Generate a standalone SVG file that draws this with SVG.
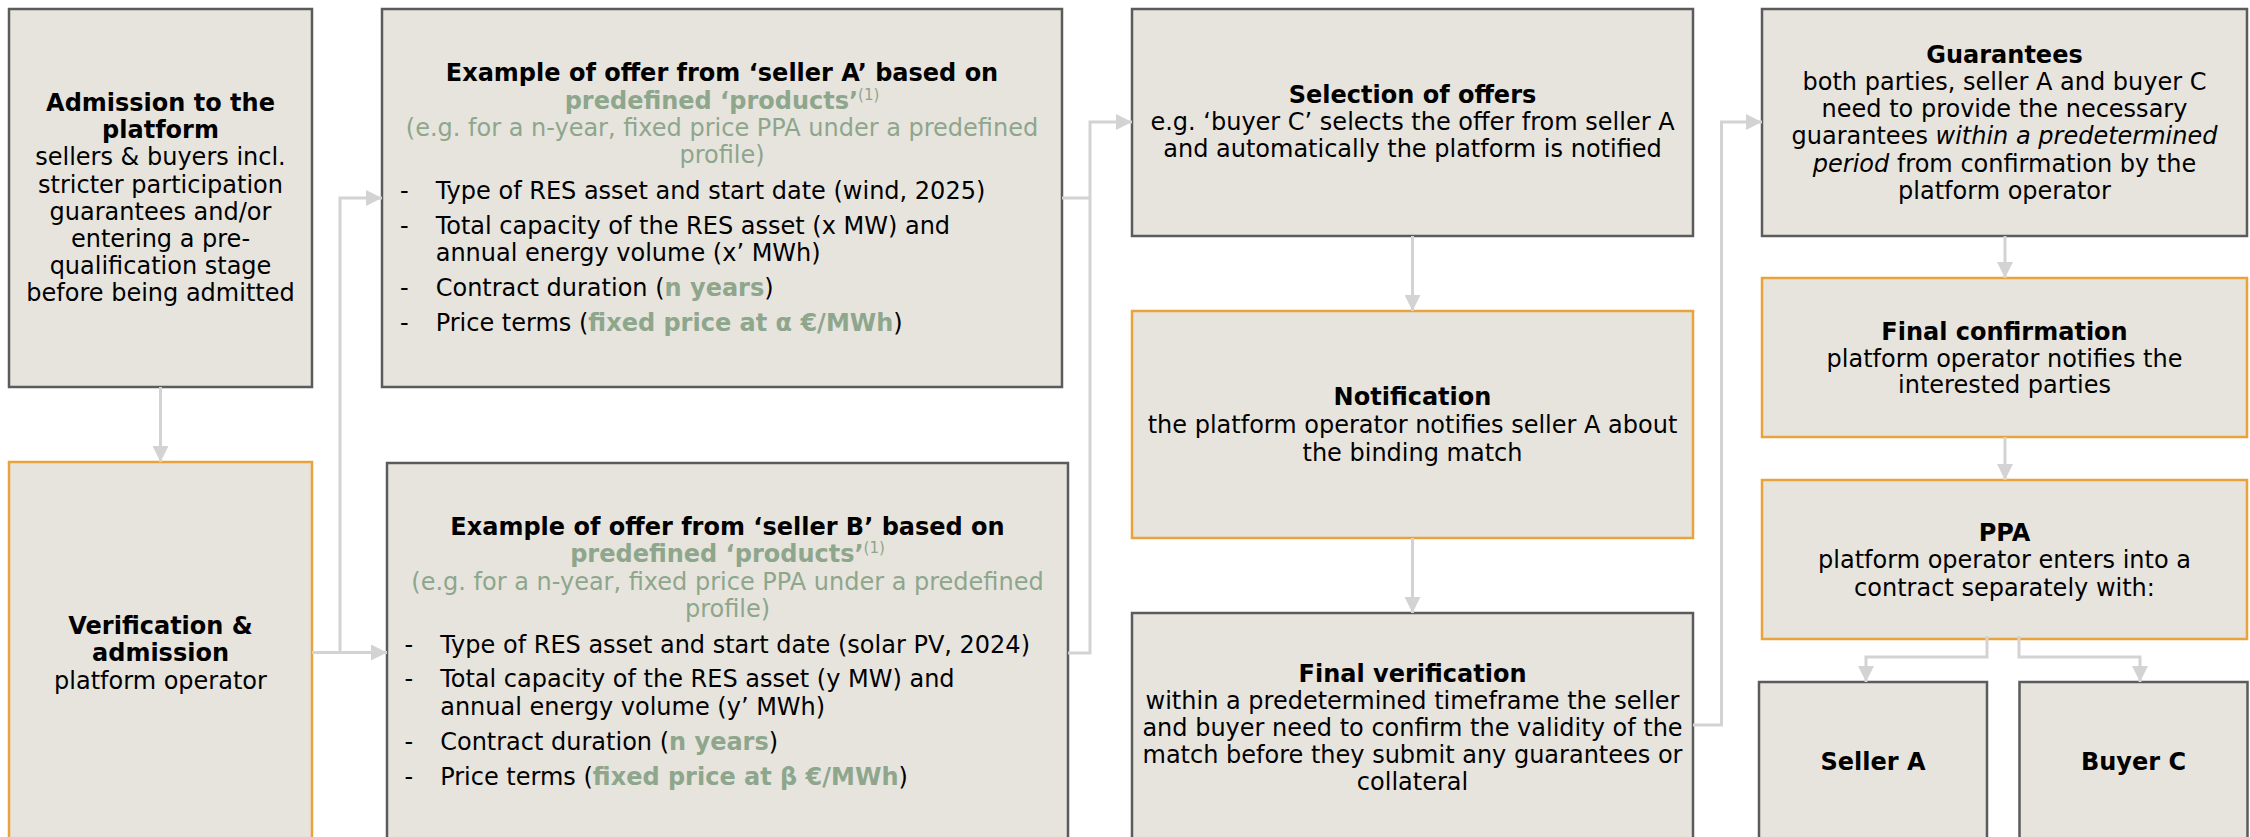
<svg xmlns="http://www.w3.org/2000/svg" width="2250" height="837" viewBox="0 0 2250 837">
<style>
.box{fill:#E7E4DE;stroke:#5B5B5B;stroke-width:2.5}
.obox{fill:#E7E4DE;stroke:#E9A33D;stroke-width:2.5}
text{font-family:"DejaVu Sans",Verdana,sans-serif;font-size:24px;fill:#000}
.c{text-anchor:middle}
.b{font-weight:bold}
.g{fill:#8DA68C}
.i{font-style:italic}
.sup{font-size:15px}
.conn{fill:none;stroke:#D3D3D3;stroke-width:3}
</style>
<defs>
<marker id="ah" markerUnits="userSpaceOnUse" markerWidth="16" markerHeight="16" refX="16" refY="8" orient="auto">
<path d="M0,0 L16,8 L0,16 z" fill="#D3D3D3"/>
</marker>
</defs>
<rect width="2250" height="837" fill="#FFFFFF"/>

<g id="admission">
<rect class="box" x="9" y="9" width="303" height="378"/>
<text class="c b" x="160.5" y="111">Admission to the</text>
<text class="c b" x="160.5" y="138.2">platform</text>
<text class="c" x="160.5" y="165.4">sellers &amp; buyers incl.</text>
<text class="c" x="160.5" y="192.6">stricter participation</text>
<text class="c" x="160.5" y="219.8">guarantees and/or</text>
<text class="c" x="160.5" y="247">entering a pre-</text>
<text class="c" x="160.5" y="274.2">qualification stage</text>
<text class="c" x="160.5" y="301.4">before being admitted</text>
</g>

<g id="verification">
<rect class="obox" x="9" y="462" width="303" height="378"/>
<text class="c b" x="160.5" y="633.5">Verification &amp;</text>
<text class="c b" x="160.5" y="661">admission</text>
<text class="c" x="160.5" y="688.5">platform operator</text>
</g>

<g id="offerA">
<rect class="box" x="382" y="9" width="680" height="378"/>
<text class="c b" x="722" y="81">Example of offer from ‘seller A’ based on</text>
<text class="c" x="722" y="108.5"><tspan class="b g">predefined ‘products’</tspan><tspan class="g sup" dy="-9">(1)</tspan></text>
<text class="c g" x="722" y="136">(e.g. for a n-year, fixed price PPA under a predefined</text>
<text class="c g" x="722" y="163.3">profile)</text>
<text x="400" y="199">-</text><text x="435.7" y="199">Type of RES asset and start date (wind, 2025)</text>
<text x="400" y="233.5">-</text><text x="435.7" y="233.5">Total capacity of the RES asset (x MW) and</text>
<text x="435.7" y="261">annual energy volume (x’ MWh)</text>
<text x="400" y="296">-</text><text x="435.7" y="296">Contract duration (<tspan class="b g">n years</tspan>)</text>
<text x="400" y="331">-</text><text x="435.7" y="331">Price terms (<tspan class="b g">fixed price at α €/MWh</tspan>)</text>
</g>

<g id="offerB">
<rect class="box" x="387" y="463" width="681" height="378"/>
<text class="c b" x="727.5" y="534.5">Example of offer from ‘seller B’ based on</text>
<text class="c" x="727.5" y="562"><tspan class="b g">predefined ‘products’</tspan><tspan class="g sup" dy="-9">(1)</tspan></text>
<text class="c g" x="727.5" y="589.5">(e.g. for a n-year, fixed price PPA under a predefined</text>
<text class="c g" x="727.5" y="616.8">profile)</text>
<text x="404.4" y="652.5">-</text><text x="440.2" y="652.5">Type of RES asset and start date (solar PV, 2024)</text>
<text x="404.4" y="687">-</text><text x="440.2" y="687">Total capacity of the RES asset (y MW) and</text>
<text x="440.2" y="714.5">annual energy volume (y’ MWh)</text>
<text x="404.4" y="749.5">-</text><text x="440.2" y="749.5">Contract duration (<tspan class="b g">n years</tspan>)</text>
<text x="404.4" y="784.5">-</text><text x="440.2" y="784.5">Price terms (<tspan class="b g">fixed price at β €/MWh</tspan>)</text>
</g>

<g id="selection">
<rect class="box" x="1132" y="9" width="561" height="227"/>
<text class="c b" x="1412.5" y="103">Selection of offers</text>
<text class="c" x="1412.5" y="130">e.g. ‘buyer C’ selects the offer from seller A</text>
<text class="c" x="1412.5" y="157.3">and automatically the platform is notified</text>
</g>

<g id="notification">
<rect class="obox" x="1132" y="311" width="561" height="227"/>
<text class="c b" x="1412.5" y="405">Notification</text>
<text class="c" x="1412.5" y="433">the platform operator notifies seller A about</text>
<text class="c" x="1412.5" y="460.7">the binding match</text>
</g>

<g id="finalVerification">
<rect class="box" x="1132" y="613" width="561" height="240"/>
<text class="c b" x="1412.5" y="681.7">Final verification</text>
<text class="c" x="1412.5" y="708.5">within a predetermined timeframe the seller</text>
<text class="c" x="1412.5" y="736">and buyer need to confirm the validity of the</text>
<text class="c" x="1412.5" y="763.3">match before they submit any guarantees or</text>
<text class="c" x="1412.5" y="790">collateral</text>
</g>

<g id="guarantees">
<rect class="box" x="1762" y="9" width="485" height="227"/>
<text class="c b" x="2004.5" y="63">Guarantees</text>
<text class="c" x="2004.5" y="90">both parties, seller A and buyer C</text>
<text class="c" x="2004.5" y="117">need to provide the necessary</text>
<text class="c" x="2004.5" y="144">guarantees <tspan class="i">within a predetermined</tspan></text>
<text class="c" x="2004.5" y="171.5"><tspan class="i">period</tspan> from confirmation by the</text>
<text class="c" x="2004.5" y="198.5">platform operator</text>
</g>

<g id="finalConfirmation">
<rect class="obox" x="1762" y="278" width="485" height="159"/>
<text class="c b" x="2004.5" y="340">Final confirmation</text>
<text class="c" x="2004.5" y="366.7">platform operator notifies the</text>
<text class="c" x="2004.5" y="393.3">interested parties</text>
</g>

<g id="ppa">
<rect class="obox" x="1762" y="480" width="485" height="159"/>
<text class="c b" x="2004.5" y="540.7">PPA</text>
<text class="c" x="2004.5" y="568.3">platform operator enters into a</text>
<text class="c" x="2004.5" y="596">contract separately with:</text>
</g>

<g id="sellerA">
<rect class="box" x="1759" y="682" width="228" height="180"/>
<text class="c b" x="1873" y="770">Seller A</text>
</g>

<g id="buyerC">
<rect class="box" x="2019.5" y="682" width="228" height="180"/>
<text class="c b" x="2133.5" y="770">Buyer C</text>
</g>

<g id="connectors">
<path class="conn" d="M160.5,387 V462" marker-end="url(#ah)"/>
<path class="conn" d="M312,652.5 H387" marker-end="url(#ah)"/>
<path class="conn" d="M340,652.5 V198 H382" marker-end="url(#ah)"/>
<path class="conn" d="M1062,198 H1090"/>
<path class="conn" d="M1068,653 H1090 V122 H1132" marker-end="url(#ah)"/>
<path class="conn" d="M1412.5,236 V311" marker-end="url(#ah)"/>
<path class="conn" d="M1412.5,538 V613" marker-end="url(#ah)"/>
<path class="conn" d="M1693,725 H1721.5 V122 H1762" marker-end="url(#ah)"/>
<path class="conn" d="M2005,236 V278" marker-end="url(#ah)"/>
<path class="conn" d="M2005,437 V480" marker-end="url(#ah)"/>
<path class="conn" d="M1987,636 V657 H1866 V682" marker-end="url(#ah)"/>
<path class="conn" d="M2019,636 V657 H2140 V682" marker-end="url(#ah)"/>
</g>
</svg>
